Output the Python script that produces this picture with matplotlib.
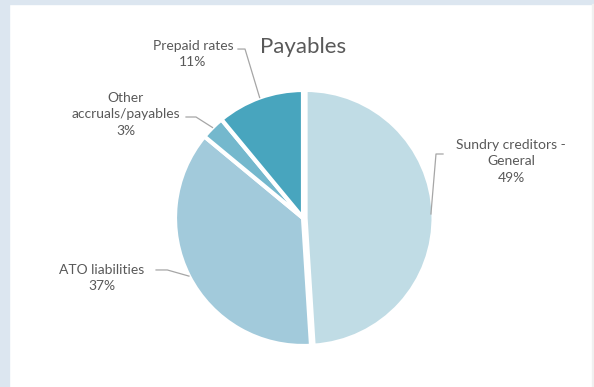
import matplotlib.pyplot as plt
import numpy as np
from matplotlib.patches import Rectangle

# data
labels = ["Sundry creditors -\nGeneral", "ATO liabilities", "Other\naccruals/payables", "Prepaid rates"]
shares = [49, 37, 3, 11]
colors = ["#c0dce5", "#a2cadb", "#74b8cd", "#48a5be"]

# label placement (data units, pie radius = 1)
text_pos = [(1.625, 0.445), (-1.57, -0.47), (-1.383, 0.81), (-0.86, 1.28)]
elbow = [(1.094, 1.039), (-1.148, -1.06), (-0.914, -0.836), (-0.508, -0.453)]
elbow_y = [0.5, -0.406, 0.789, 1.32]

plt.rcParams['font.family'] = ['Lato', 'DejaVu Sans']
W, H = 594, 387
fig = plt.figure(figsize=(W / 100, H / 100), dpi=100)
fig.patch.set_facecolor("white")

# outer frame like the spreadsheet window
fig.patches.append(Rectangle((0, 0), 9 / W, 1, transform=fig.transFigure,
                             color="#dce6f0", zorder=0))
fig.patches.append(Rectangle((0, 1 - 4 / H), 1, 4 / H, transform=fig.transFigure,
                             color="#dce6f0", zorder=0))
fig.patches.append(Rectangle((1 - 2 / W, 0), 2 / W, 1 - 4 / H, transform=fig.transFigure,
                             color="#f0f0f0", zorder=0))

ax = fig.add_axes([0, 0, 1, 1])
ax.set_facecolor("none")

wedges, _ = ax.pie(shares, colors=colors, startangle=90, counterclock=False,
                   explode=[0.02, 0, 0, 0], radius=1,
                   wedgeprops=dict(edgecolor="white", linewidth=3))

scale = 128.0
cx, cy = 303, 218
ax.set_xlim(-cx / scale, (W - cx) / scale)
ax.set_ylim(-(H - cy) / scale, cy / scale)
ax.axis("off")

txt_color = "#595959"
line_color = "#a6a6a6"
for i, w in enumerate(wedges):
    ang = np.deg2rad((w.theta1 + w.theta2) / 2)
    ex, ey = np.cos(ang) * 1.0, np.sin(ang) * 1.0
    x0, x1 = elbow[i]
    y0 = elbow_y[i]
    ax.plot([x0, x1, ex], [y0, y0, ey], color=line_color, lw=0.9, zorder=5)
    ax.text(text_pos[i][0], text_pos[i][1], f"{labels[i]}\n{shares[i]}%",
            ha="center", va="center", fontsize=10, color=txt_color,
            linespacing=1.45)

ax.text(0, (cy - 47) / scale, "Payables", ha="center", va="center",
        fontsize=16, color=txt_color)

fig.savefig("out.png", dpi=100)
